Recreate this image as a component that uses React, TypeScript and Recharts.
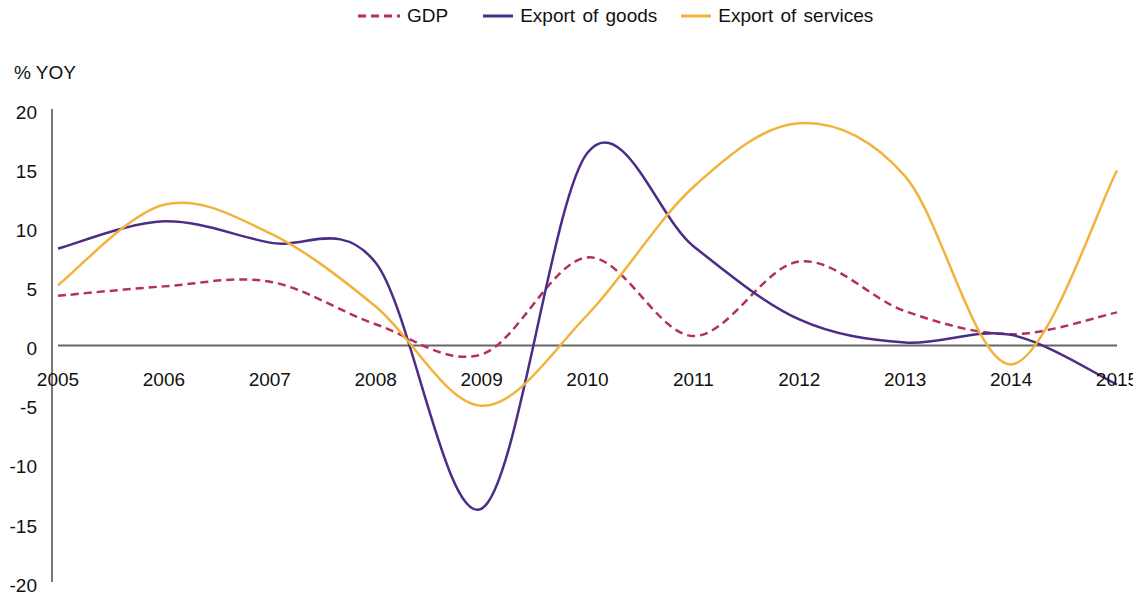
import React from "react";
import { LineChart, Line, XAxis, YAxis, ReferenceLine, ReferenceDot } from "recharts";

const years = [2005, 2006, 2007, 2008, 2009, 2010, 2011, 2012, 2013, 2014, 2015];
const gdp = [4.2, 5.0, 5.4, 1.8, -0.75, 7.45, 0.8, 7.1, 2.9, 0.95, 2.8];
const goods = [8.2, 10.5, 8.7, 7.0, -13.8, 16.3, 8.4, 2.2, 0.25, 0.9, -3.3];
const services = [5.1, 11.9, 9.5, 3.3, -5.1, 2.6, 13.4, 18.8, 14.3, -1.6, 14.8];
const yTicks = [-20, -15, -10, -5, 0, 5, 10, 15, 20];

const series = [
  { key: "gdp", name: "GDP", color: "#B5305A", dash: "8 5", icon: 42, gap: 0 },
  { key: "goods", name: "Export of goods", color: "#4B2D85", dash: undefined, icon: 30, gap: 35 },
  { key: "services", name: "Export of services", color: "#F2B33D", dash: undefined, icon: 30, gap: 24 },
];

const data = years.map((year, i) => ({
  year,
  gdp: gdp[i],
  goods: goods[i],
  services: services[i],
}));

const FONT = "'Liberation Sans', Arial, Helvetica, sans-serif";

// spreadsheet-style smoothing (cardinal spline, tension 0)
function smoothCurve(context: any) {
  let xs: number[] = [];
  let ys: number[] = [];
  return {
    areaStart() {},
    areaEnd() {},
    lineStart() {
      xs = [];
      ys = [];
    },
    point(x: number, y: number) {
      xs.push(+x);
      ys.push(+y);
    },
    lineEnd() {
      const n = xs.length;
      if (!n) return;
      context.moveTo(xs[0], ys[0]);
      for (let i = 0; i < n - 1; i++) {
        const a = Math.max(i - 1, 0);
        const b = Math.min(i + 2, n - 1);
        context.bezierCurveTo(
          xs[i] + (xs[i + 1] - xs[a]) / 6,
          ys[i] + (ys[i + 1] - ys[a]) / 6,
          xs[i + 1] - (xs[b] - xs[i]) / 6,
          ys[i + 1] - (ys[b] - ys[i]) / 6,
          xs[i + 1],
          ys[i + 1]
        );
      }
    },
  };
}

function LegendRow() {
  return (
    <div
      style={{
        position: "absolute",
        top: -2,
        left: 350,
        display: "flex",
        alignItems: "center",
        height: 20,
        fontSize: 19,
        color: "#111",
        whiteSpace: "nowrap",
      }}
    >
      {series.map((s) => (
        <div key={s.key} style={{ display: "flex", alignItems: "center", marginLeft: s.gap }}>
          <svg width={s.icon} height={6} style={{ marginRight: 7 }}>
            <line x1={0} y1={3} x2={s.icon} y2={3} stroke={s.color} strokeWidth={3} strokeDasharray={s.dash} />
          </svg>
          <span style={{ wordSpacing: 2 }}>{s.name}</span>
        </div>
      ))}
    </div>
  );
}

export default function App() {
  return (
    <div style={{ position: "relative", width: 1133, height: 586, fontFamily: FONT }}>
      <style>{`.recharts-surface { overflow: visible; }`}</style>
      <LegendRow />
      <div style={{ position: "absolute", left: 6, top: 55, fontSize: 19, lineHeight: "20px", color: "#111" }}>
        % YOY
      </div>
      <LineChart width={1133} height={586} data={data} margin={{ top: 101, right: 24, bottom: 12, left: 0 }}>
        <XAxis
          dataKey="year"
          type="number"
          domain={[2005, 2015]}
          ticks={years}
          padding={{ left: 6, right: 0 }}
          hide
        />
        <YAxis
          domain={[-20, 20]}
          ticks={yTicks}
          width={44}
          tickLine={false}
          tickSize={0}
          tickMargin={15}
          axisLine={{ stroke: "#777", strokeWidth: 2 }}
          tick={{ fontSize: 19, fill: "#111", dy: 3, fontFamily: FONT }}
        />
        <ReferenceLine
          segment={[
            { x: 2005, y: 0 },
            { x: 2015, y: 0 },
          ]}
          stroke="#666"
          strokeWidth={2}
        />
        {years.map((yr) => (
          <ReferenceDot
            key={yr}
            x={yr}
            y={0}
            r={0}
            fill="none"
            stroke="none"
            label={{ value: String(yr), position: "bottom", offset: 27, fontSize: 19, fill: "#111", fontFamily: FONT }}
          />
        ))}
        {series.map((s) => (
          <Line
            key={s.key}
            dataKey={s.key}
            name={s.name}
            type={smoothCurve as any}
            stroke={s.color}
            strokeWidth={2.5}
            strokeDasharray={s.dash}
            dot={false}
            activeDot={false}
            isAnimationActive={false}
          />
        ))}
      </LineChart>
    </div>
  );
}
